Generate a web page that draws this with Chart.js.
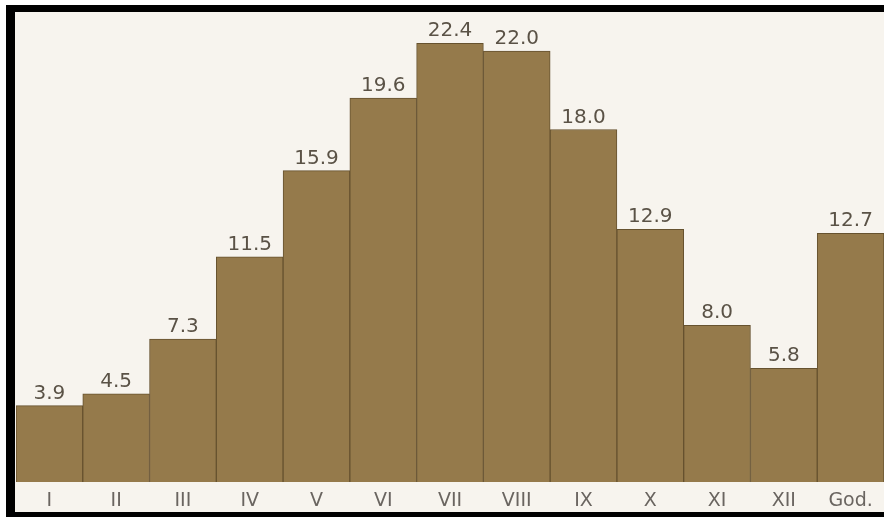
<!DOCTYPE html>
<html>
<head>
<meta charset="utf-8">
<script src="https://cdn.jsdelivr.net/npm/chart.js@4/dist/chart.umd.min.js"></script>
<style>
  html, body { margin: 0; padding: 0; background: #ffffff; overflow: hidden; }
  #frame {
    position: absolute; left: 6px; top: 5px; width: 878px; height: 500px;
    border-left: 9px solid #000; border-top: 7px solid #000; border-bottom: 6px solid #000;
    background: #f7f4ee;
  }
  #wrap { position: absolute; left: 0; top: 0; width: 869px; height: 500px; }
</style>
</head>
<body>
<div id="frame"><div id="wrap"><canvas id="myChart"></canvas></div></div>
<script>
const months = ["I", "II", "III", "IV", "V", "VI", "VII", "VIII", "IX", "X", "XI", "XII", "God."];
const temps = [3.9, 4.5, 7.3, 11.5, 15.9, 19.6, 22.4, 22.0, 18.0, 12.9, 8.0, 5.8, 12.7];
const yMin = 0;
const yMax = 24;

/*
 * Draws the value above each bar
 */
const valueLabels = {
  id: "valueLabels",
  afterDatasetsDraw(chart) {
    const ctx = chart.ctx;
    const meta = chart.getDatasetMeta(0);
    ctx.save();
    ctx.font = "20px 'DejaVu Sans'";
    ctx.fillStyle = "#5a5246";
    ctx.textAlign = "center";
    ctx.textBaseline = "alphabetic";
    meta.data.forEach((bar, i) => {
      ctx.fillText(temps[i].toFixed(1), bar.x, bar.y - 7);
    });
    ctx.restore();
  },
};

const ctx = document.getElementById("myChart");
new Chart(ctx, {
  type: "bar",
  data: {
    labels: months,
    datasets: [
      {
        data: temps,
        backgroundColor: "#957a4b",
        borderColor: "#66522f",
        borderWidth: 1,
        borderSkipped: "bottom",
        barPercentage: 1,
        categoryPercentage: 1,
      },
    ],
  },
  options: {
    responsive: true,
    maintainAspectRatio: false,
    animation: false,
    layout: { padding: { left: 1, right: 0, top: 0, bottom: 0 } },
    scales: {
      x: {
        grid: { display: false, drawTicks: false },
        border: { display: false },
        ticks: {
          color: "#6a6560",
          padding: 8,
          font: { family: "'DejaVu Sans'", size: 19 },
          maxRotation: 0,
          autoSkip: false,
        },
        afterFit: function (scale) {
          scale.height = 30;
        },
      },
      y: {
        display: false,
        min: yMin,
        max: yMax,
      },
    },
    plugins: {
      legend: { display: false },
      tooltip: { enabled: false },
    },
  },
  plugins: [valueLabels],
});
</script>
</body>
</html>
